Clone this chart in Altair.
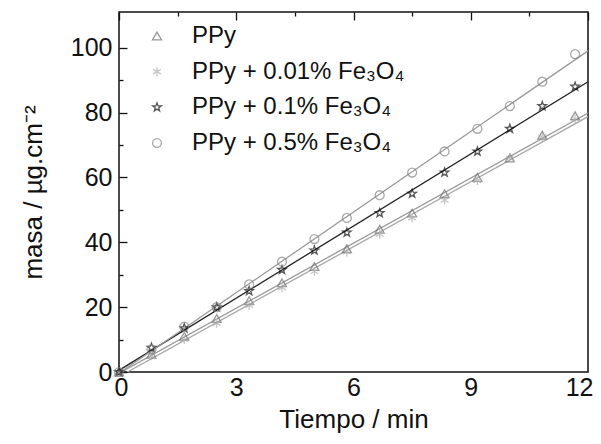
import altair as alt
import pandas as pd

# ---- data ----
tiempo = [0, 0.83, 1.67, 2.5, 3.33, 4.17, 5.0, 5.83, 6.67, 7.5, 8.33, 9.17, 10.0, 10.83, 11.67]
series_names = ["PPy", "PPy + 0.01% Fe₃O₄", "PPy + 0.1% Fe₃O₄", "PPy + 0.5% Fe₃O₄"]
m_ppy = [0, 5.5, 11, 16.5, 22, 27.5, 32.5, 38, 44, 49, 55, 60, 66, 73, 79]
m_001 = [0, 5, 10, 15, 20.5, 26, 31, 37, 42.5, 47.5, 53, 59, 66, 72.5, 78]
m_01 = [0, 7.5, 13.5, 20, 25, 31.5, 37.5, 43, 49, 55, 61.5, 68, 75, 82, 88]
m_05 = [0, 7, 14, 20, 27, 34, 41, 47.5, 54.5, 61.5, 68, 75, 82, 89.5, 98]
x_ticks = [0, 1.5, 3, 4.5, 6, 7.5, 9, 10.5, 12]
y_ticks = [0, 10, 20, 30, 40, 50, 60, 70, 80, 90, 100]

rows = []
for name, vals in zip(series_names, [m_ppy, m_001, m_01, m_05]):
    for t, m in zip(tiempo, vals):
        rows.append({"t": t, "m": m, "serie": name})
df = pd.DataFrame(rows)
leg_df = pd.DataFrame({"serie": series_names})

STAR = ("M0,-1L0.235,-0.324L0.951,-0.309L0.380,0.124L0.588,0.809L0,0.4"
        "L-0.588,0.809L-0.380,0.124L-0.951,-0.309L-0.235,-0.324Z")
ASTER = "M0,-1L0,1M-0.866,-0.5L0.866,0.5M-0.866,0.5L0.866,-0.5"

FONT = "Liberation Sans"
xscale = alt.Scale(domain=[0, 12], nice=False, zero=False)
yscale = alt.Scale(domain=[0, 111], nice=False)
shape_scale = alt.Scale(domain=series_names, range=["triangle-up", ASTER, STAR, "circle"])
color_scale = alt.Scale(domain=series_names, range=["#6e6e6e", "#b0b0b0", "#111111", "#858585"])

x_axis = alt.Axis(
    orient="bottom", values=x_ticks, ticks=False, tickSize=0, domain=False,
    grid=True, gridColor="#111", gridWidth=1.3, gridOpacity=1,
    gridDash={"condition": {"test": "datum.value % 3 === 0", "value": [8, 3000]}, "value": [4, 3000]},
    labelExpr="datum.value % 3 === 0 ? datum.label : ''",
    labelPadding=3, labelFontSize=25, labelFont=FONT, labelColor="#111",
    labelFlush=True, labelFlushOffset=5,
    title="Tiempo / min", titleFontSize=26, titleFont=FONT,
    titleFontWeight="normal", titleColor="#111", titlePadding=6,
)
y_axis = alt.Axis(
    orient="left", values=y_ticks, ticks=False, tickSize=0, domain=False,
    grid=True, gridColor="#111", gridWidth=1.3, gridOpacity=1,
    gridDash={"condition": {"test": "datum.value % 20 === 0", "value": [8, 3000]}, "value": [4, 3000]},
    labelExpr="datum.value % 20 === 0 ? datum.label : ''",
    labelPadding=7, labelFontSize=25, labelFont=FONT, labelColor="#111", labelFlush=False,
    title="masa / µg.cm⁻²", titleFontSize=26, titleFont=FONT,
    titleFontWeight="normal", titleColor="#111", titlePadding=24,
)

base = alt.Chart(df)

lines = base.transform_regression(
    "t", "m", groupby=["serie"], extent=[0, 12]
).mark_line(strokeWidth=1.3, clip=True).encode(
    x=alt.X("t:Q", scale=xscale, axis=x_axis),
    y=alt.Y("m:Q", scale=yscale, axis=y_axis),
    stroke=alt.Stroke("serie:N", scale=alt.Scale(domain=series_names,
                      range=["#9a9a9a", "#a8a8a8", "#222222", "#9a9a9a"]), legend=None),
)

points = base.mark_point(filled=False, size=80, strokeWidth=1.3).encode(
    x=alt.X("t:Q", scale=xscale, axis=x_axis),
    y=alt.Y("m:Q", scale=yscale, axis=y_axis),
    shape=alt.Shape("serie:N", scale=shape_scale, legend=None),
    color=alt.Color("serie:N", scale=color_scale, legend=None),
)

main = alt.layer(lines, points)

# legend drawn as its own layer (rows placed by a point scale)
leg_y = alt.Y("serie:N", scale=alt.Scale(domain=series_names, range=[24, 131], padding=0), axis=None)
leg_pts = alt.Chart(leg_df).mark_point(filled=False, size=80, strokeWidth=1.3).encode(
    x=alt.value(38), y=leg_y,
    shape=alt.Shape("serie:N", scale=shape_scale, legend=None),
    color=alt.Color("serie:N", scale=color_scale, legend=None),
)
leg_txt = alt.Chart(leg_df).mark_text(
    align="left", baseline="middle", fontSize=24, font=FONT, color="#111"
).encode(x=alt.value(73), y=leg_y, text="serie:N")

chart = alt.layer(main, leg_pts, leg_txt).resolve_scale(y="independent").properties(
    width=469, height=360,
    autosize=alt.AutoSizeParams(type="none"),
    padding={"left": 111, "top": 4, "right": 5, "bottom": 64},
).configure_view(stroke="#111", strokeWidth=1.5)

chart.save("out.html", embed_options={"renderer": "svg", "actions": False})
